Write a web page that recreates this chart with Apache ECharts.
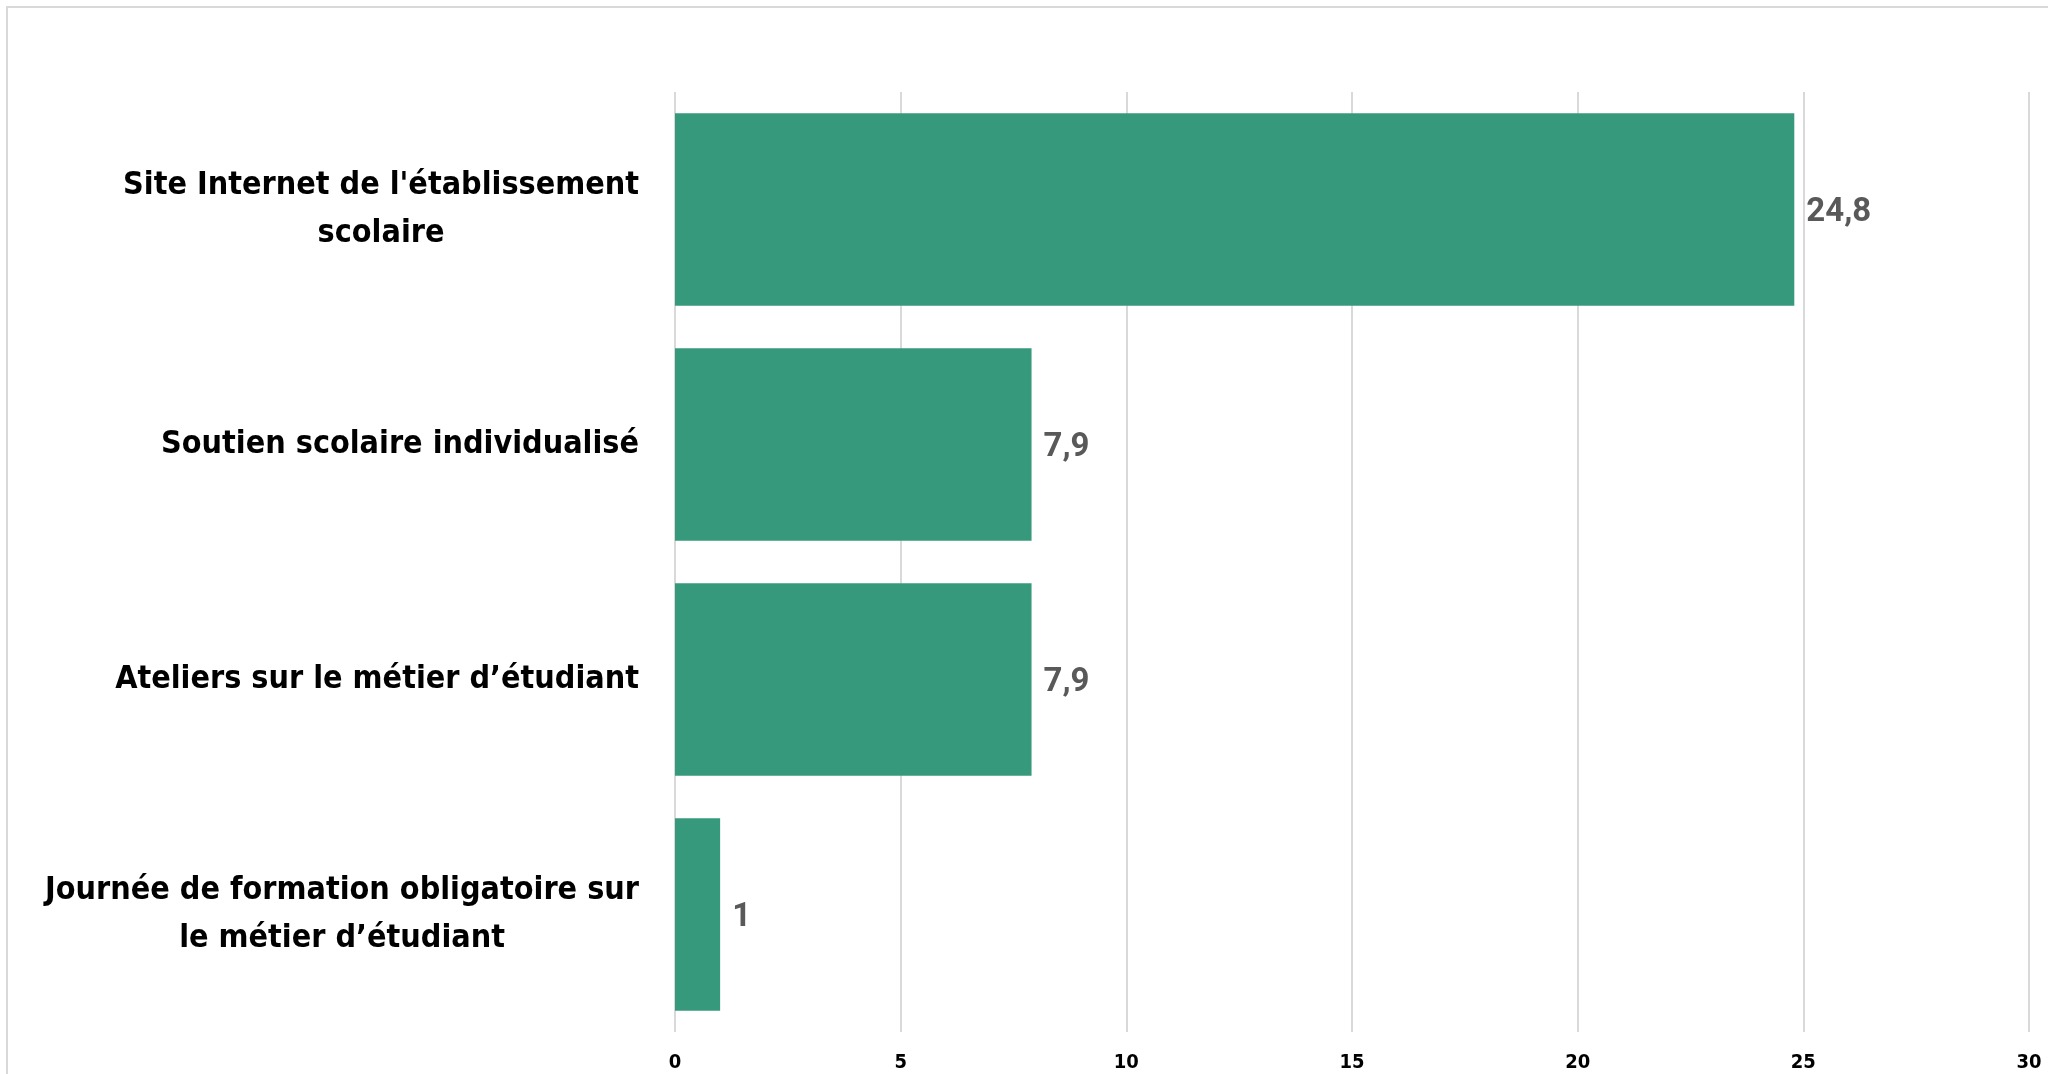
<!DOCTYPE html>
<html>
<head>
<meta charset="utf-8">
<script src="https://cdn.jsdelivr.net/npm/echarts@6/dist/echarts.min.js"></script>
<style>
html,body{margin:0;padding:0;background:#fff;}
#chart{width:2048px;height:1074px;}
</style>
</head>
<body>
<div id="chart"></div>
<script>
const categories = [
  "Site Internet de l'établissement\nscolaire",
  "Soutien scolaire individualisé",
  "Ateliers sur le métier d’étudiant",
  "Journée de formation obligatoire sur\nle métier d’étudiant"
];
const values = [24.8, 7.9, 7.9, 1];
const xTicks = [0, 5, 10, 15, 20, 25, 30];

const condensed = "'DejaVu Sans Condensed', 'Liberation Sans Narrow', sans-serif";
const chart = echarts.init(document.getElementById('chart'));
chart.setOption({
  backgroundColor: '#ffffff',
  animation: false,
  graphic: [{
    type: 'rect',
    shape: { x: 7, y: 7, width: 3000, height: 3000 },
    style: { fill: 'none', stroke: '#D9D9D9', lineWidth: 2 },
    silent: true
  }],
  grid: { left: 675, right: 19, top: 92, bottom: 42, containLabel: false, outerBoundsMode: 'none' },
  xAxis: {
    type: 'value',
    min: xTicks[0],
    max: xTicks[xTicks.length - 1],
    interval: 5,
    axisLine: { show: false },
    axisTick: { show: false },
    splitLine: { show: true, lineStyle: { color: '#D9D9D9', width: 2 } },
    axisLabel: {
      color: '#000',
      fontFamily: condensed,
      fontWeight: 'bold',
      fontSize: 20,
      margin: 21
    }
  },
  yAxis: {
    type: 'category',
    data: categories,
    inverse: true,
    axisLine: { show: false },
    axisTick: { show: false },
    axisLabel: {
      margin: 36,
      align: 'right',
      formatter: function (v) {
        return v.split('\n').map(function (l) { return '{c|' + l + '}'; }).join('\n');
      },
      rich: {
        c: {
          align: 'center',
          color: '#000',
          fontFamily: condensed,
          fontWeight: 'bold',
          fontSize: 32,
          lineHeight: 48
        }
      }
    }
  },
  series: [{
    type: 'bar',
    data: values,
    barCategoryGap: '18%',
    itemStyle: { color: '#37997B' },
    label: {
      show: true,
      position: 'right',
      distance: 12,
      offset: [0, 3],
      color: '#595959',
      fontFamily: "Roboto, 'Liberation Sans', sans-serif",
      fontWeight: 'bold',
      fontSize: 33,
      formatter: function (p) { return String(p.value).replace('.', ','); }
    }
  }]
});
</script>
</body>
</html>
